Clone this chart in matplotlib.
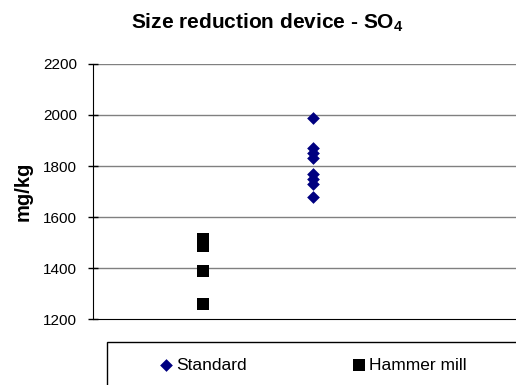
import matplotlib
matplotlib.use('Agg')
import matplotlib.pyplot as plt
from matplotlib.patches import Rectangle

plt.rcParams['font.family'] = ['Liberation Sans', 'DejaVu Sans']
plt.rcParams['mathtext.fontset'] = 'custom'
plt.rcParams['mathtext.rm'] = 'Liberation Sans'
plt.rcParams['mathtext.bf'] = 'Liberation Sans:bold'

# data
standard = [1990, 1870, 1850, 1830, 1770, 1750, 1730, 1680]
hammer = [1516, 1488, 1390, 1260]
standard_x = [2] * len(standard)
hammer_x = [1] * len(hammer)
yticks = [1200, 1400, 1600, 1800, 2000, 2200]

fig = plt.figure(figsize=(5.16, 3.85), dpi=100)
ax = fig.add_axes([0.180, 0.171, 0.82, 0.663])

for y in yticks[1:]:
    ax.axhline(y, color='#808080', lw=1, zorder=1)

ax.scatter(standard_x, standard, marker='D', s=42, color='#000080', zorder=3,
           label='Standard', linewidths=0)
ax.scatter(hammer_x, hammer, marker='s', s=85, color='black', zorder=3,
           label='Hammer mill', linewidths=0)

ax.set_xlim(0, 3.85)
ax.set_ylim(1200, 2200)
ax.set_yticks(yticks)
ax.set_xticks([])
ax.tick_params(axis='y', labelsize=11, length=6.5, width=1, direction='inout', pad=8)
for s in ['top', 'right']:
    ax.spines[s].set_visible(False)
ax.spines['left'].set_color('black')
ax.spines['bottom'].set_color('black')
ax.set_ylabel('mg/kg', fontsize=14.5, fontweight='bold')
ax.yaxis.set_label_coords(-0.142, 0.50)

fig.text(0.518, 0.942, r'Size reduction device - SO$_\mathbf{4}$', ha='center',
         va='center', fontsize=15, fontweight='bold')

# legend box below the plot
fig.patches.append(Rectangle((0.207, -0.05), 0.85, 0.162, transform=fig.transFigure,
                             fill=False, edgecolor='black', lw=1))
leg = fig.legend(loc='center left', bbox_to_anchor=(0.310, 0.052), ncol=2,
                 frameon=False, fontsize=12.5, columnspacing=6.1, handletextpad=0.23,
                 handlelength=0.7, borderpad=0, borderaxespad=0, markerscale=1.0)

fig.savefig('out.png', dpi=100)
